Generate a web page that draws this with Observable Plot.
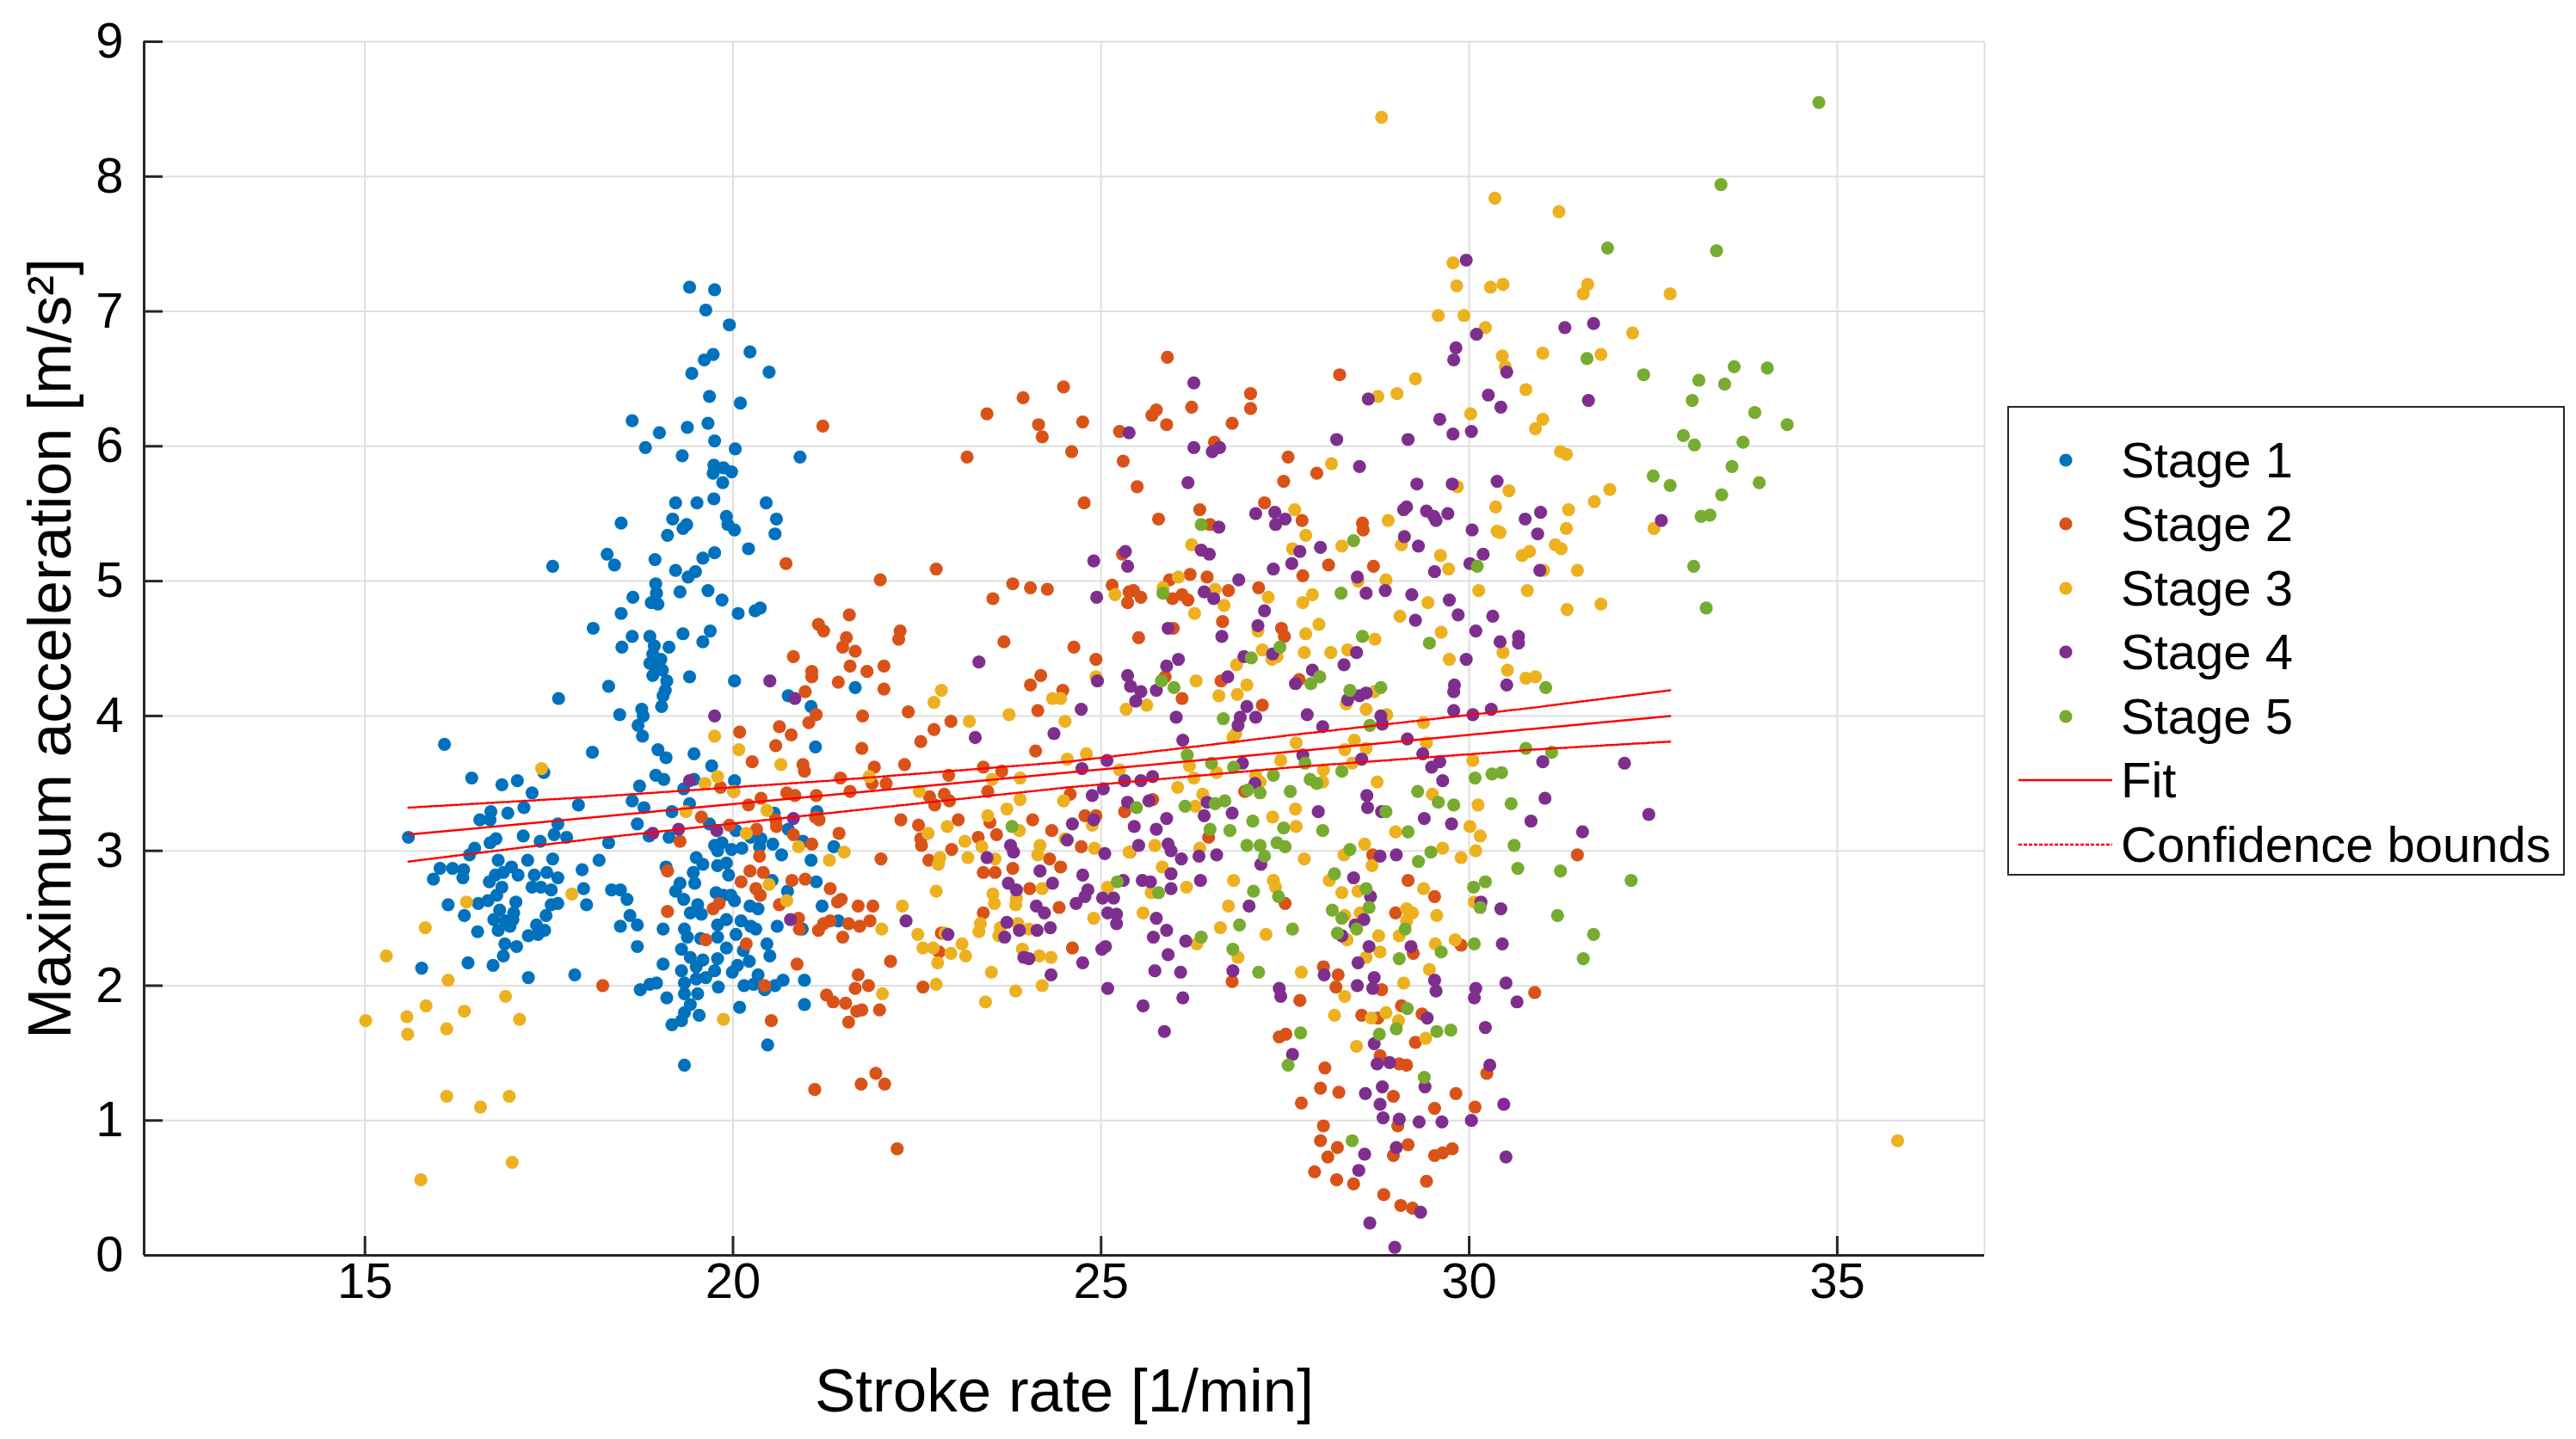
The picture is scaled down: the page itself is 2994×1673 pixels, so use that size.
<!DOCTYPE html>
<html><head><meta charset="utf-8">
<script src="https://cdn.jsdelivr.net/npm/d3@7"></script>
<script src="https://cdn.jsdelivr.net/npm/@observablehq/plot@0.6"></script>
<style>
html,body{margin:0;padding:0;background:#fff;}
#fig{position:relative;width:2994px;height:1673px;overflow:hidden;background:#fff;font-family:"Liberation Sans",Arial,Helvetica,sans-serif;}
#chart{position:absolute;left:0;top:0;}
#legend{position:absolute;left:2333px;top:472px;width:644px;height:542px;border:2px solid #262626;background:#fff;}
.lrow{position:absolute;left:0;height:74px;display:flex;align-items:center;}
.lrow svg{width:130px;height:74px;flex:none;}
.lrow span{font-size:58px;color:#000;white-space:nowrap;line-height:74px;}
[aria-label="x-axis label"],[aria-label="y-axis label"]{font-size:71px;}
</style></head>
<body><div id="fig"><div id="chart"></div><div id="legend"></div></div>
<script>
const stageNames = ["Stage 1","Stage 2","Stage 3","Stage 4","Stage 5"];
const stageColors = ["#0072BD","#D95319","#EDB120","#7E2F8E","#77AC30"];
const xDomain = [12, 37];
const yDomain = [0, 9];
const xTicks = [15, 20, 25, 30, 35];
const yTicks = [0, 1, 2, 3, 4, 5, 6, 7, 8, 9];
const xLabel = "Stroke rate [1/min]";
const yLabel = "Maximum acceleration [m/s²]";

// Fit and confidence bounds
const fitX = [15.59, 32.73];
const fitY = [3.12, 4.00];
const ciX = [15.59, 18.11, 21.31, 24.54, 27.61, 30.85, 32.73];
const ciUpper = [3.32, 3.40, 3.52, 3.66, 3.86, 4.06, 4.19];
const ciLower = [2.92, 3.09, 3.28, 3.47, 3.62, 3.75, 3.81];

const stage1 = [[19.41,7.18],[19.75,7.16],[19.63,7.01],[19.95,6.90],[20.23,6.70],[19.73,6.68],[19.61,6.64],[19.44,6.54],[20.49,6.55],[19.68,6.37],[20.10,6.32],[18.63,6.19],[19.0,6.10],[19.38,6.14],[19.66,6.17],[19.75,6.04],[18.81,5.99],[20.03,5.98],[19.31,5.93],[20.91,5.92],
[17.55,5.11],[18.10,4.65],[17.63,4.13],[16.08,3.79],[18.09,3.73],[17.43,3.58],[16.45,3.54],[16.86,3.49],[17.07,3.52],[17.27,3.43],[17.90,3.34],[17.16,3.32],[16.94,3.28],[16.71,3.29],[16.56,3.23],[16.70,3.23],[17.62,3.20],[15.59,3.10],[17.15,3.11],[17.57,3.12],[17.74,3.10],[17.38,3.07],[16.78,3.09],[16.70,3.06],[16.49,3.02],[16.42,2.97],[16.81,2.93],[17.21,2.93],[17.55,2.94],[18.18,2.93],
[16.02,2.87],[16.19,2.87],[16.34,2.86],[15.93,2.79],[16.33,2.80],[16.99,2.88],[17.95,2.86],[16.77,2.82],[16.88,2.84],[16.69,2.77],[17.08,2.82],[17.30,2.82],[17.47,2.84],[17.62,2.80],[16.86,2.73],[17.27,2.73],[17.39,2.73],[17.53,2.71],[17.97,2.72],[16.13,2.60],[16.54,2.61],[16.67,2.63],[16.79,2.67],[17.05,2.62],[17.53,2.60],[17.62,2.61],[18.01,2.60],[16.83,2.56],[17.02,2.54],[16.35,2.52],[16.75,2.49],[16.91,2.48],[17.01,2.49],[17.46,2.52],[17.33,2.45],[16.81,2.41],[16.97,2.44],[16.53,2.40],[17.22,2.37],[17.35,2.38],[17.44,2.41],[16.90,2.31],[17.06,2.29],[16.88,2.22],[15.77,2.13],[16.40,2.17],[16.74,2.15],[17.22,2.06],[17.85,2.08],
[19.74,5.86],[19.87,5.84],[19.98,5.81],[19.73,5.80],[19.86,5.73],[19.22,5.58],[19.51,5.58],[19.74,5.61],[20.45,5.58],[18.48,5.43],[19.18,5.46],[19.91,5.48],[20.59,5.46],[19.37,5.42],[19.32,5.39],[19.93,5.42],[20.02,5.38],[19.11,5.34],[20.57,5.35],[20.21,5.24],[18.29,5.20],[18.39,5.12],[18.94,5.16],[19.59,5.17],[19.75,5.21],[19.22,5.08],[19.49,5.07],[19.39,5.03],[18.95,4.98],[19.28,4.92],[19.66,4.93],[18.64,4.88],[18.96,4.91],[18.89,4.84],[18.98,4.83],[19.85,4.86],[20.07,4.76],[20.30,4.78],[20.37,4.80],[18.48,4.76],
[18.63,4.59],[18.87,4.59],[19.32,4.61],[19.69,4.63],[19.59,4.55],[18.49,4.51],[18.93,4.52],[19.13,4.51],[18.91,4.46],[19.02,4.42],[18.87,4.39],[18.95,4.37],[19.04,4.34],[18.91,4.30],[19.41,4.29],[19.10,4.26],[18.31,4.22],[19.08,4.19],[19.05,4.15],[20.02,4.26],[20.75,4.15],[21.66,4.21],[21.06,4.07],[19.03,4.07],[18.76,4.05],[18.46,4.01],[18.78,4.0],[18.71,3.93],[18.77,3.85],
[18.98,3.75],[19.09,3.69],[19.47,3.72],[21.12,3.77],[19.71,3.63],[18.95,3.56],[19.06,3.53],[18.73,3.48],[19.47,3.53],[20.02,3.52],[19.33,3.46],[20.01,3.44],[18.63,3.37],[18.79,3.32],[19.17,3.29],[18.70,3.20],[19.68,3.20],[19.41,3.35],[20.56,3.28],[21.14,3.29],[20.75,3.16],[18.31,3.06],[18.86,3.11],[19.13,3.10],[19.75,3.04],[19.85,3.06],[20.04,3.15],[20.24,3.10],[20.38,3.09],[20.54,3.05],[20.36,3.03],[19.98,3.01],[20.12,3.02],[19.79,3.0],[20.95,3.07],[21.37,3.03],[20.66,2.97],[19.50,2.95],[21.06,2.93],
[19.09,2.88],[19.59,2.90],[19.46,2.84],[19.79,2.89],[19.91,2.91],[19.94,2.82],[18.35,2.71],[18.47,2.71],[18.56,2.64],[19.28,2.76],[19.22,2.70],[19.48,2.76],[19.33,2.64],[19.77,2.69],[19.87,2.67],[19.97,2.67],[20.02,2.63],[20.23,2.59],[20.34,2.57],[20.53,2.78],[20.74,2.70],[21.13,2.77],[21.21,2.59],[19.52,2.60],[19.42,2.54],[19.57,2.53],[18.60,2.52],[18.70,2.45],[18.47,2.44],[19.05,2.42],[19.34,2.42],[19.79,2.45],[19.91,2.49],[20.11,2.48],[20.24,2.44],[20.31,2.42],[20.60,2.44],[20.94,2.42],[21.43,2.48],[19.38,2.36],[19.56,2.35],[19.79,2.36],[20.04,2.38],[18.70,2.29],[19.30,2.27],[19.91,2.28],[20.14,2.26],[20.46,2.31],[20.50,2.22],[19.42,2.21],[19.59,2.19],[19.79,2.20],[19.05,2.16],[19.30,2.11],[19.50,2.14],[19.75,2.11],[20.06,2.15],[20.22,2.18],[19.99,2.10],[19.50,2.05],[19.63,2.06],[20.34,2.08],[19.34,2.02],[18.87,2.01],[18.96,2.02],[18.74,1.97],[19.80,1.99],[20.15,2.0],[20.28,2.01],[20.43,1.97],[20.57,2.0],[20.68,2.04],[20.97,2.04],[19.34,1.94],[19.52,1.94],[19.10,1.91],[20.09,1.84],[20.97,1.86],[19.42,1.86],[19.34,1.80],[19.54,1.78],[19.30,1.74],[19.17,1.71],[20.47,1.56],[19.34,1.41]];

const stage2 = [[21.22,6.15],[23.45,6.24],[23.94,6.36],[24.15,6.16],[24.20,6.07],[24.49,6.44],[23.18,5.92],
[25.90,6.66],[24.75,6.18],[25.25,6.11],[25.69,6.23],[25.75,6.27],[25.89,6.16],[26.23,6.29],[26.78,6.17],[27.03,6.39],[27.03,6.28],[26.54,6.03],[24.60,5.96],[27.54,5.92],[28.24,6.53],
[20.72,5.13],[22.76,5.09],[22.0,5.01],[23.80,4.98],[24.04,4.95],[24.27,4.94],[23.53,4.87],[21.58,4.75],[21.16,4.68],[21.23,4.63],[22.27,4.63],[22.25,4.57],[21.54,4.58],[21.49,4.51],[21.66,4.48],[23.68,4.55],[20.82,4.44],[21.59,4.37],[21.82,4.33],[22.05,4.37],[21.07,4.33],[21.07,4.29],[21.43,4.25],[22.05,4.20],[20.98,4.18],[24.18,4.30],[24.04,4.23],[24.48,4.19],[21.13,4.01],[21.03,3.95],[21.76,4.0],[22.38,4.03],[22.96,3.96],[24.14,4.04],[20.63,3.92],[20.79,3.86],[20.09,3.88],[22.73,3.90],[22.55,3.81],[20.58,3.78],[21.75,3.76],[24.11,3.74],[20.26,3.66],[20.95,3.64],[20.97,3.59],[21.92,3.62],[22.33,3.64],[23.40,3.62],[23.65,3.59],[22.93,3.56],[21.46,3.54],[21.89,3.50],[22.08,3.50],[19.83,3.47],[20.73,3.43],[20.84,3.41],[21.13,3.41],[21.59,3.44],[22.67,3.40],[22.87,3.42],[23.46,3.44],[20.38,3.39],[20.21,3.34],[22.74,3.34],[22.94,3.37],[19.57,3.25],[20.58,3.23],[21.12,3.25],[21.17,3.23],[22.28,3.23],[23.06,3.23],[23.49,3.21],[24.07,3.23],[20.59,3.18],[19.95,3.19],[20.32,3.16],[22.52,3.19],[21.44,3.13],[23.58,3.12],[24.33,3.15],[20.82,3.12],[19.28,3.07],[21.07,3.05],[22.55,3.09],[22.56,3.04],[23.33,3.10],[22.97,3.01],[20.36,2.96],[22.01,2.94],[22.66,2.93],[24.30,2.94],
[18.23,2.0],[19.11,2.85],[20.23,2.85],[20.41,2.84],[20.11,2.77],[20.31,2.72],[20.37,2.67],[20.80,2.78],[20.98,2.79],[21.32,2.72],[19.81,2.61],[19.73,2.57],[19.11,2.55],[20.63,2.60],[20.89,2.50],[20.90,2.42],[21.42,2.62],[21.47,2.64],[21.70,2.59],[21.90,2.59],[21.16,2.41],[21.23,2.46],[21.32,2.48],[21.57,2.46],[21.72,2.44],[21.86,2.48],[21.49,2.36],[19.63,2.34],[20.18,2.31],[22.14,2.18],[20.87,2.16],[21.70,2.08],[20.43,2.0],[21.66,1.98],[21.84,2.0],[22.58,1.99],[21.27,1.93],[21.36,1.88],[21.53,1.87],[21.68,1.81],[21.75,1.82],[21.99,1.82],[21.57,1.73],[20.52,1.74],[21.94,1.35],[21.74,1.27],[22.06,1.27],[21.11,1.23],[22.23,0.79],[23.40,2.84],[23.56,2.84],[23.80,2.87],[24.45,2.88],[24.03,2.72],[24.43,2.58],[23.40,2.54],[22.83,2.39],[22.80,2.25],
[25.30,5.89],[25.49,5.70],[24.77,5.58],[26.34,5.53],[25.78,5.46],[26.48,5.42],[27.48,5.74],[27.93,5.80],[27.22,5.58],[27.73,5.45],[28.55,5.43],[28.56,5.38],[25.29,5.20],[28.09,5.12],[27.74,5.04],[28.70,5.11],[25.15,4.97],[25.38,4.92],[25.44,4.93],[25.54,4.88],[25.36,4.84],[25.93,5.01],[26.21,5.05],[25.97,4.87],[26.10,4.90],[26.18,4.86],[26.44,5.03],[26.73,4.93],[27.14,4.95],[26.65,4.70],[25.98,4.65],[25.51,4.58],[24.63,4.51],[27.45,4.65],[27.49,4.59],[24.93,4.42],[26.63,4.26],[25.87,4.29],[26.10,4.13],[27.19,4.08],[27.69,4.27],[24.58,3.42],[24.78,3.26],[24.93,3.26],[25.32,3.29],[25.70,3.38],[26.95,3.44],[26.46,3.10],[24.73,3.03],[25.39,2.99],[28.69,2.97],
[24.61,2.28],[26.78,2.03],[27.50,2.61],[27.70,1.89],[27.42,1.62],[27.51,1.64],[28.02,2.14],[28.22,2.08],[28.19,1.99],[28.81,1.97],[29.17,2.78],[29.53,2.66],[29.0,2.54],[29.24,2.24],[29.89,2.30],[29.08,1.85],[28.54,1.78],[28.76,1.76],[29.36,1.79],[29.27,1.58],[28.79,1.48],[29.05,1.42],[29.15,1.41],[28.04,1.39],[27.98,1.24],[28.23,1.21],[27.72,1.13],[28.97,1.18],[29.82,1.20],[29.53,1.09],[30.08,1.10],[30.24,1.35],[29.03,0.96],[28.02,0.96],[27.98,0.85],[28.21,0.80],[28.08,0.73],[29.17,0.82],[28.97,0.74],[29.53,0.74],[29.64,0.76],[29.77,0.79],[27.90,0.62],[28.20,0.56],[28.43,0.53],[29.42,0.55],[28.84,0.45],[29.07,0.37],[29.23,0.35],
[31.47,2.97],[30.89,1.95]];

const stage3 = [[28.81,8.44],[30.35,7.84],[29.78,7.36],[29.83,7.19],[30.29,7.18],[30.46,7.20],[29.58,6.97],[29.93,6.97],[30.22,6.88],[30.45,6.67],[30.49,6.59],[30.77,6.42],[30.02,6.24],[29.27,6.50],[29.02,6.39],[28.76,6.37],
[31.22,7.74],[31.61,7.20],[31.55,7.13],[32.73,7.13],[32.22,6.84],[31.0,6.69],[31.79,6.68],[31.0,6.20],[30.9,6.13],[31.24,5.96],[31.32,5.94],
[31.91,5.68],[31.70,5.59],[31.35,5.53],[32.51,5.39],[31.32,5.39],[31.17,5.27],[31.25,5.24],[30.82,5.22],[31.01,5.08],[31.47,5.08],[30.79,4.93],[31.33,4.79],[31.79,4.83],[30.77,4.28],[30.90,4.29],
[17.40,3.61],[17.81,2.68],[16.38,2.62],[15.82,2.43],[15.29,2.22],[16.13,2.04],[16.91,1.92],[15.83,1.85],[16.35,1.81],[15.57,1.77],[15.01,1.74],[17.10,1.75],[16.11,1.68],[15.58,1.64],[16.11,1.18],[16.96,1.18],[16.57,1.10],[17.0,0.69],[15.76,0.56],
[19.75,3.85],[20.08,3.75],[20.65,3.64],[19.79,3.55],[19.62,3.50],[20.01,3.44],[19.36,3.29],[20.46,3.30],[20.18,3.13],[20.89,3.03],[21.51,2.99],[22.83,4.19],[22.73,4.10],[23.21,3.96],[23.75,4.01],[24.34,4.13],[24.45,4.13],[24.51,3.96],[21.85,3.55],[22.53,3.44],[23.52,3.53],[23.90,3.54],[23.90,3.38],[23.72,3.31],[24.49,3.37],[23.46,3.26],[22.91,3.18],[22.65,3.13],[23.89,3.15],[23.15,3.07],[23.38,3.03],[24.17,3.04],[24.51,3.09],[22.81,2.95],[23.19,2.95],[24.14,2.97],[24.54,3.68],[21.31,2.93],[23.56,2.94],
[20.49,2.75],[20.73,2.63],[22.02,2.42],[19.87,1.75],[22.03,1.94],[22.30,2.59],[22.76,2.70],[22.79,2.90],[22.51,2.38],[22.58,2.28],[22.72,2.28],[22.88,2.39],[23.11,2.31],[22.96,2.24],[23.16,2.22],[22.78,2.17],[22.76,2.01],[23.51,2.10],[23.43,1.88],[23.84,1.96],[24.20,2.0],[23.53,2.68],[23.55,2.61],[23.85,2.65],[23.84,2.60],[24.20,2.72],[23.36,2.46],[23.34,2.40],[23.63,2.43],[23.61,2.37],[23.87,2.46],[24.02,2.42],[23.93,2.27],[24.16,2.22],[24.32,2.21],
[28.13,5.87],[27.63,5.53],[27.78,5.34],[27.60,5.24],[28.27,5.26],[28.90,5.45],[29.08,5.27],[29.84,5.70],[30.54,5.67],[30.36,5.55],[30.42,5.36],[30.38,5.37],[30.72,5.19],[29.61,5.19],[29.72,5.09],[28.87,5.01],[28.49,5.0],[30.13,4.93],[29.44,4.84],[29.06,4.74],[29.62,4.62],[28.72,4.57],[26.23,5.27],[26.05,5.03],[25.84,4.95],[25.19,4.90],[26.55,4.94],[26.67,4.82],[26.27,4.76],[27.27,4.88],[27.87,4.90],[27.74,4.84],[27.96,4.68],[27.78,4.61],[27.13,4.63],[27.19,4.49],[27.32,4.42],[27.39,4.44],[26.84,4.38],[27.76,4.47],[28.12,4.47],[28.35,4.49],[29.73,4.42],[30.46,4.47],[30.52,4.34],[24.93,4.29],[26.29,4.26],[26.98,4.23],[26.60,4.15],[26.85,4.16],[25.62,4.08],[25.34,4.05],[28.33,4.09],[28.71,4.18],[28.60,4.05],[28.88,4.01],[29.38,3.95],[26.79,3.84],[26.83,3.87],[27.65,3.80],[28.44,3.82],[28.60,3.76],[28.31,3.75],[29.42,3.80],[24.80,3.72],[25.25,3.60],[26.20,3.63],[26.26,3.54],[26.57,3.58],[27.44,3.67],[28.02,3.60],[28.01,3.51],[28.41,3.65],[30.05,3.67],[26.04,3.47],[26.38,3.42],[26.28,3.33],[27.10,3.56],[27.16,3.51],[28.75,3.51],[29.50,3.42],[30.12,3.34],[24.88,3.19],[27.33,3.25],[27.64,3.31],[27.65,3.18],[29.0,3.14],[30.01,3.18],[30.15,3.11],[24.91,3.02],[25.38,2.99],[25.73,3.04],[26.34,3.02],[27.76,2.94],[28.30,2.97],[28.58,3.05],[29.64,3.02],[29.89,2.95],[30.09,3.0],
[25.83,2.88],[25.09,2.73],[25.68,2.69],[26.16,2.73],[24.90,2.50],[25.57,2.54],[26.80,2.78],[26.73,2.59],[27.34,2.78],[27.37,2.73],[26.62,2.43],[27.24,2.38],[26.86,2.21],[26.30,2.31],[27.72,2.10],[28.10,2.78],[28.27,2.69],[28.49,2.70],[28.31,2.52],[28.52,2.54],[28.34,2.34],[28.31,1.92],[28.17,1.78],[28.68,2.89],[28.77,2.37],[28.79,2.25],[28.60,2.21],[29.05,2.37],[29.15,2.57],[29.23,2.54],[29.15,2.48],[29.38,2.72],[29.56,2.52],[29.46,2.12],[29.54,2.31],[29.81,2.34],[29.11,2.02],[28.87,1.80],[28.67,1.76],[29.04,1.74],[28.47,1.55],[29.41,1.61],[30.07,2.62],
[35.82,0.85]];

const stage4 = [[29.96,7.38],[30.10,6.83],[29.82,6.73],[29.79,6.64],[30.51,6.55],[30.26,6.38],[30.43,6.29],[29.60,6.20],[29.78,6.09],[30.03,6.11],[29.17,6.05],[28.20,6.05],[28.63,6.35],[25.38,6.10],[26.26,6.47],[26.26,5.99],[26.61,5.99],[26.51,5.96],
[31.30,6.88],[31.69,6.91],[31.62,6.34],
[30.97,5.51],[30.76,5.46],[32.61,5.45],[30.93,5.35],[30.96,5.08],[31.0,3.66],[32.11,3.65],[31.03,3.39],[30.84,3.22],[32.44,3.27],[31.54,3.14],
[20.50,4.26],[20.84,4.13],[19.75,4.0],[23.34,4.40],[23.29,3.84],[24.36,3.87],[19.41,3.52],[20.82,3.24],[18.91,3.13],[19.26,3.16],[19.78,3.15],[23.77,3.04],[23.81,2.99],[23.45,2.95],[24.54,3.08],
[20.78,2.49],[22.35,2.48],[22.92,2.38],[24.17,2.85],[24.34,2.76],[23.74,2.76],[23.85,2.71],[24.12,2.59],[24.23,2.54],[23.72,2.47],[23.89,2.41],[24.13,2.41],[24.31,2.43],[23.69,2.36],[23.95,2.21],[24.02,2.20],[24.32,2.08],
[26.18,5.73],[28.51,5.85],[29.29,5.72],[29.77,5.72],[30.38,5.74],[27.10,5.50],[27.36,5.51],[27.50,5.46],[27.37,5.42],[26.60,5.40],[29.11,5.53],[29.15,5.55],[29.42,5.52],[29.52,5.48],[29.71,5.50],[29.55,5.45],[30.04,5.38],[29.12,5.33],[29.31,5.26],[30.19,5.20],[30.01,5.13],[29.53,5.07],[25.33,5.22],[25.36,5.11],[24.90,5.15],[26.36,5.23],[26.47,5.20],[27.70,5.22],[27.98,5.25],[27.34,5.09],[27.59,5.13],[26.87,5.01],[26.40,4.92],[26.53,4.87],[24.94,4.88],[27.22,4.78],[28.48,5.03],[28.60,4.91],[28.86,4.93],[29.22,4.90],[29.73,4.86],[29.85,4.75],[29.27,4.71],[30.32,4.74],[30.09,4.63],[30.42,4.55],[30.67,4.59],[30.67,4.54],[29.96,4.42],[30.51,4.23],[29.80,4.23],[29.79,4.18],[25.91,4.65],[27.13,4.67],[26.64,4.59],[27.33,4.46],[26.94,4.44],[28.47,4.47],[28.30,4.38],[27.87,4.34],[27.64,4.24],[26.05,4.42],[25.89,4.37],[25.36,4.30],[24.95,4.26],[25.40,4.22],[25.54,4.18],[25.75,4.19],[25.47,4.11],[26.72,4.29],[24.73,4.05],[26.02,3.99],[26.98,4.07],[26.89,3.99],[27.10,3.99],[26.86,3.93],[27.80,4.01],[28.01,3.92],[28.35,4.12],[28.51,4.15],[28.60,4.17],[28.80,4.0],[28.82,3.94],[29.79,4.04],[30.05,4.01],[30.30,4.05],[26.11,3.82],[25.08,3.67],[24.74,3.61],[25.32,3.52],[25.54,3.52],[25.70,3.55],[25.03,3.46],[24.88,3.41],[25.36,3.36],[25.65,3.37],[26.92,3.65],[27.74,3.71],[28.54,3.68],[29.16,3.83],[29.37,3.72],[29.49,3.62],[29.60,3.66],[29.64,3.52],[27.09,3.50],[26.44,3.36],[26.78,3.28],[26.40,3.26],[25.89,3.24],[24.90,3.23],[24.61,3.20],[25.45,3.18],[25.75,3.16],[27.95,3.29],[28.61,3.41],[28.62,3.32],[28.81,3.29],[29.39,3.24],[29.76,3.20],[25.51,3.04],[25.91,3.05],[25.95,3.0],[25.05,2.98],[26.33,2.96],[26.57,2.97],[28.79,2.96],[29.01,2.97],[26.09,2.94],
[24.75,2.82],[25.30,2.78],[25.56,2.78],[25.67,2.77],[25.95,2.83],[25.95,2.72],[26.35,2.78],[24.82,2.71],[24.78,2.66],[24.66,2.61],[25.02,2.65],[25.17,2.65],[25.09,2.54],[25.21,2.53],[25.21,2.46],[25.75,2.50],[25.89,2.41],[25.71,2.36],[26.15,2.33],[25.01,2.27],[25.06,2.29],[25.91,2.23],[24.75,2.17],[25.73,2.11],[26.08,2.10],[25.09,1.98],[25.57,1.85],[26.11,1.91],[25.86,1.66],[27.01,2.59],[27.17,2.90],[26.79,2.11],[27.42,1.98],[27.44,1.92],[27.60,1.49],[28.43,2.80],[28.66,2.66],[28.57,2.49],[28.45,2.45],[28.27,2.37],[28.64,2.29],[29.21,2.29],[28.49,2.17],[28.03,2.08],[28.71,2.06],[28.48,2.0],[28.69,1.98],[29.53,2.04],[29.55,1.96],[29.43,1.76],[28.71,1.57],[28.75,1.42],[28.92,1.43],[28.82,1.25],[28.59,1.20],[28.79,1.12],[29.40,1.25],[28.83,1.02],[29.05,1.01],[29.32,0.99],[29.63,0.99],[30.03,1.0],[29.01,0.80],[28.58,0.75],[28.50,0.63],[29.34,0.32],[28.65,0.24],[28.99,0.06],[30.16,2.62],[30.43,2.57],[30.45,2.31],[30.50,2.02],[30.09,1.98],[30.07,1.91],[30.65,1.88],[30.22,1.69],[30.28,1.41],[30.47,1.12],[30.50,0.73]];

const stage5 = [[34.75,8.55],[33.42,7.94],[31.88,7.47],[33.36,7.45],[31.60,6.65],[32.37,6.53],[33.60,6.59],[34.05,6.58],[33.12,6.49],[33.47,6.46],[33.03,6.34],[33.88,6.25],[34.32,6.16],[32.91,6.08],[33.06,6.01],[33.72,6.03],
[33.57,5.85],[32.50,5.78],[32.73,5.71],[33.94,5.73],[33.43,5.64],[33.15,5.48],[33.27,5.49],[33.05,5.11],[33.22,4.80],[31.04,4.21],[30.77,3.76],[31.12,3.73],
[31.24,2.85],[32.20,2.78],[31.20,2.52],[31.69,2.38],[31.55,2.20],[23.79,3.18],
[26.36,5.42],[28.43,5.30],[30.11,5.11],[25.84,4.91],[28.26,4.91],[28.55,4.59],[29.46,4.54],[27.43,4.51],[27.04,4.43],[25.82,4.26],[25.99,4.21],[27.97,4.29],[27.85,4.24],[28.38,4.19],[28.80,4.21],[26.66,3.98],[28.65,3.93],[26.17,3.71],[26.50,3.65],[26.80,3.62],[27.77,3.65],[27.34,3.56],[28.27,3.59],[27.84,3.53],[27.93,3.50],[30.31,3.57],[30.44,3.58],[30.08,3.54],[26.99,3.45],[27.16,3.43],[27.57,3.44],[29.30,3.44],[29.58,3.36],[29.79,3.34],[30.57,3.35],[25.48,3.32],[26.14,3.33],[26.55,3.35],[26.68,3.37],[28.87,3.29],[27.06,3.22],[27.48,3.17],[28.01,3.15],[26.48,3.16],[26.75,3.15],[29.17,3.14],[26.98,3.04],[27.16,3.04],[27.39,3.06],[27.50,3.03],[28.38,3.01],[29.48,2.99],[30.61,3.04],[27.22,2.96],
[25.22,2.77],[25.78,2.69],[27.07,2.70],[27.41,2.66],[26.36,2.36],[26.88,2.45],[26.79,2.27],[27.14,2.10],[27.60,2.42],[28.17,2.83],[28.60,2.72],[28.64,2.58],[28.14,2.56],[28.27,2.50],[28.47,2.42],[28.21,2.39],[29.31,2.92],[29.13,2.42],[29.05,2.20],[29.62,2.25],[30.06,2.73],[30.22,2.77],[30.15,2.58],[30.07,2.31],[30.66,2.87],[29.16,1.83],[28.78,1.64],[29.01,1.68],[29.56,1.66],[29.75,1.67],[27.71,1.65],[27.54,1.41],[29.39,1.32],[28.41,0.85]];

const stages = [stage1, stage2, stage3, stage4, stage5];
const points = [];
stages.forEach((s, i) => s.forEach(([x, y]) => points.push({x, y, stage: stageNames[i]})));
const fit = fitX.map((x, i) => ({x, y: fitY[i]}));
const upper = ciX.map((x, i) => ({x, y: ciUpper[i]}));
const lower = ciX.map((x, i) => ({x, y: ciLower[i]}));

const ink = "#262626";
const grid = "#dfdfdf";
const intFormat = d => String(d);

const chart = Plot.plot({
  width: 2320,
  height: 1673,
  marginLeft: 167,
  marginRight: 14,
  marginTop: 48,
  marginBottom: 214,
  style: {background: "#fff", fontFamily: '"Liberation Sans", Arial, Helvetica, sans-serif', color: ink, overflow: "visible"},
  x: {domain: xDomain},
  y: {domain: yDomain},
  color: {domain: stageNames, range: stageColors},
  marks: [
    Plot.gridX(xTicks, {stroke: grid, strokeOpacity: 1, strokeWidth: 2}),
    Plot.gridY(yTicks, {stroke: grid, strokeOpacity: 1, strokeWidth: 2}),
    Plot.ruleX([xDomain[1]], {stroke: grid, strokeWidth: 2}),
    Plot.dot(points, {x: "x", y: "y", fill: "stage", r: 7.6, stroke: null}),
    Plot.line(upper, {x: "x", y: "y", stroke: "#ff0000", strokeWidth: 2.5, strokeDasharray: "4,2"}),
    Plot.line(lower, {x: "x", y: "y", stroke: "#ff0000", strokeWidth: 2.5, strokeDasharray: "4,2"}),
    Plot.line(fit, {x: "x", y: "y", stroke: "#ff0000", strokeWidth: 2.5}),
    Plot.ruleX([xDomain[0]], {stroke: ink, strokeWidth: 3}),
    Plot.ruleY([yDomain[0]], {stroke: ink, strokeWidth: 3}),
    Plot.axisX(xTicks, {anchor: "bottom", tickSize: -22, tickPadding: 30, tickFormat: intFormat, strokeWidth: 3, stroke: ink, fill: "#000", fontSize: 58,
      label: xLabel, labelAnchor: "center", labelArrow: "none", labelOffset: 181}),
    Plot.axisY(yTicks, {anchor: "left", tickSize: -22, tickPadding: 46, tickFormat: intFormat, strokeWidth: 3, stroke: ink, fill: "#000", fontSize: 58,
      label: yLabel, labelAnchor: "center", labelArrow: "none", labelOffset: 136})
  ]
});
document.getElementById("chart").appendChild(chart);

// Legend
const legendItems = stageNames.map((name, i) => ({name, kind: "dot", color: stageColors[i]}))
  .concat([{name: "Fit", kind: "line", color: "#ff0000"}, {name: "Confidence bounds", kind: "dash", color: "#ff0000"}]);
const legend = document.getElementById("legend");
const rowCenters = [61, 135, 210, 284, 359, 433, 508];
legendItems.forEach((item, i) => {
  const row = document.createElement("div");
  row.className = "lrow";
  row.style.top = (rowCenters[i] - 37) + "px";
  let sym;
  if (item.kind === "dot") sym = `<circle cx="66" cy="37" r="7.6" fill="${item.color}"/>`;
  else sym = `<line x1="11" x2="120" y1="37" y2="37" stroke="${item.color}" stroke-width="2.5" ${item.kind === "dash" ? 'stroke-dasharray="4,2"' : ""}/>`;
  row.innerHTML = `<svg viewBox="0 0 130 74">${sym}</svg><span>${item.name}</span>`;
  legend.appendChild(row);
});
</script></body></html>
